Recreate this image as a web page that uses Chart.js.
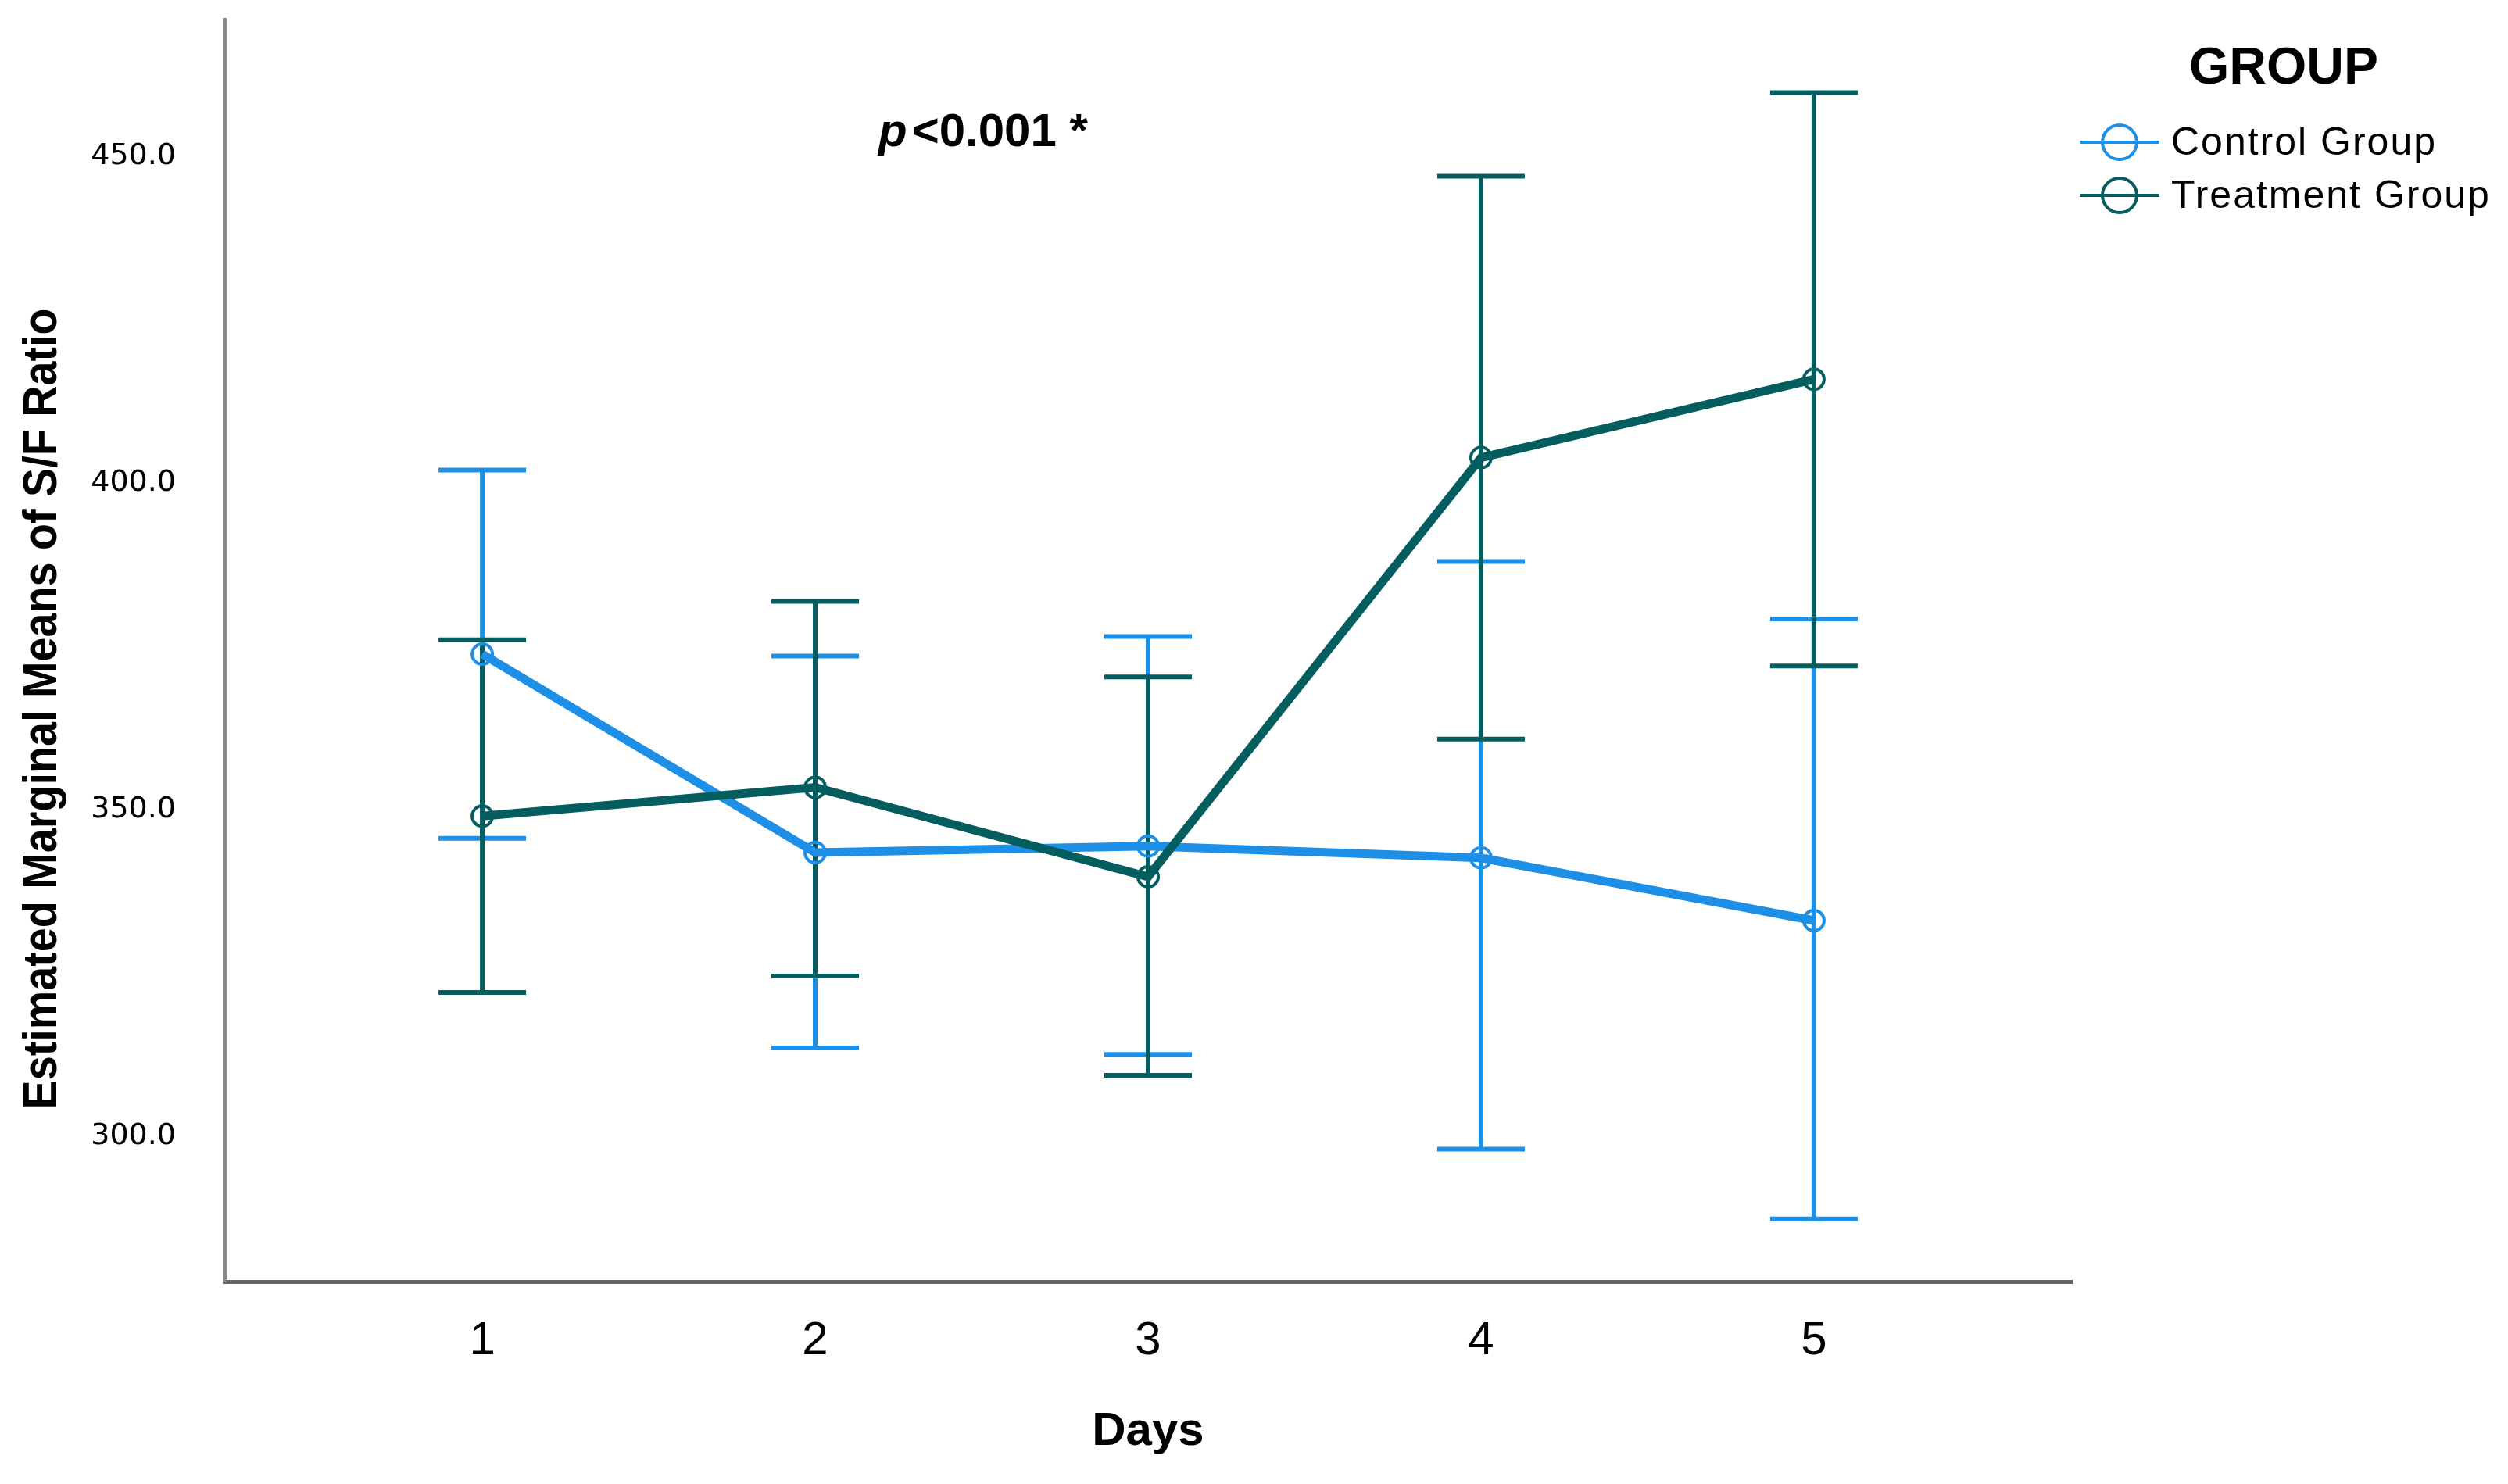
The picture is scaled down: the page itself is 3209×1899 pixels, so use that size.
<!DOCTYPE html>
<html>
<head>
<meta charset="utf-8">
<script src="https://cdn.jsdelivr.net/npm/chart.js@4.4.1/dist/chart.umd.min.js"></script>
<style>
  body { margin: 0; background: #fff; }
  #wrap { width: 3209px; height: 1899px; position: relative; }
</style>
</head>
<body>
<div id="wrap"><canvas id="emm-chart"></canvas></div>
<script>
// Estimated marginal means of S/F ratio by day, with 95% CI
const days = [1, 2, 3, 4, 5];
const yTicks = [300, 350, 400, 450];

const controlMean = [373.8, 343.4, 344.4, 342.6, 333.0];
const controlLow  = [345.6, 313.5, 312.5, 298.0, 287.3];
const controlHigh = [402.0, 373.5, 376.5, 388.0, 379.2];

const treatMean = [349.0, 353.4, 339.7, 403.9, 415.9];
const treatLow  = [322.0, 324.5, 309.3, 360.8, 372.0];
const treatHigh = [376.0, 381.9, 370.3, 447.0, 459.8];

const CONTROL_COLOR = '#1d8fe6';
const TREAT_COLOR = '#045d5e';

const toPoints = (ys) => days.map((d, i) => ({ x: d, y: ys[i] }));

// error bars drawn under the lines, through the chart scales
const errorBars = {
    id: 'errorBars',
    beforeDatasetsDraw(chart) {
        const { ctx, scales: { x, y } } = chart;
        const sets = [
            { lo: controlLow, hi: controlHigh, color: CONTROL_COLOR },
            { lo: treatLow, hi: treatHigh, color: TREAT_COLOR }
        ];
        ctx.save();
        ctx.lineWidth = 6;
        sets.forEach(s => {
            ctx.strokeStyle = s.color;
            days.forEach((d, i) => {
                const px = x.getPixelForValue(d);
                const yl = y.getPixelForValue(s.lo[i]);
                const yh = y.getPixelForValue(s.hi[i]);
                ctx.beginPath();
                ctx.moveTo(px, yl); ctx.lineTo(px, yh);
                ctx.moveTo(px - 56, yl); ctx.lineTo(px + 56, yl);
                ctx.moveTo(px - 56, yh); ctx.lineTo(px + 56, yh);
                ctx.stroke();
            });
        });
        ctx.restore();
    }
};

// y title, p-value note and group legend
const annotations = {
    id: 'annotations',
    afterDraw(chart) {
        const ctx = chart.ctx;
        ctx.save();
        ctx.fillStyle = '#000';

        // y axis title
        ctx.save();
        ctx.translate(55, 907);
        ctx.rotate(-Math.PI / 2);
        ctx.font = 'bold 62px "Liberation Sans Narrow", "Liberation Sans", Arial';
        ctx.textAlign = 'center';
        ctx.textBaseline = 'middle';
        ctx.fillText('Estimated Marginal Means of S/F Ratio', 0, 0, 1025);
        ctx.restore();

        // p-value
        ctx.textBaseline = 'alphabetic';
        ctx.textAlign = 'left';
        ctx.font = 'italic bold 60px "Liberation Sans", Arial';
        ctx.fillText('p', 1124, 187);
        const pw = ctx.measureText('p').width;
        ctx.font = 'bold 60px "Liberation Sans", Arial';
        ctx.fillText('<0.001 *', 1124 + pw + 6, 187);

        // legend
        ctx.textAlign = 'center';
        ctx.font = 'bold 66px "Liberation Sans", Arial';
        ctx.fillText('GROUP', 2922, 107);

        const items = [
            { label: 'Control Group', color: CONTROL_COLOR, y: 182 },
            { label: 'Treatment Group', color: TREAT_COLOR, y: 250 }
        ];
        items.forEach(it => {
            ctx.strokeStyle = it.color;
            ctx.lineWidth = 4;
            ctx.beginPath();
            ctx.moveTo(2661, it.y); ctx.lineTo(2763, it.y);
            ctx.stroke();
            ctx.lineWidth = 4;
            ctx.beginPath();
            ctx.arc(2712, it.y, 22, 0, Math.PI * 2);
            ctx.stroke();
            ctx.fillStyle = '#000';
            ctx.textAlign = 'left';
            ctx.textBaseline = 'middle';
            ctx.font = '50px "Liberation Sans", Arial';
            ctx.letterSpacing = '2px';
            ctx.fillText(it.label, 2778, it.y + 2);
            ctx.letterSpacing = '0px';
        });
        ctx.restore();
    }
};

new Chart(document.getElementById('emm-chart'), {
    type: 'line',
    data: {
        datasets: [
            {
                label: 'Control Group',
                data: toPoints(controlMean),
                borderColor: CONTROL_COLOR,
                borderWidth: 11,
                pointRadius: 13,
                pointBorderWidth: 4,
                pointBackgroundColor: 'rgba(0,0,0,0)',
                pointBorderColor: CONTROL_COLOR,
                tension: 0,
                order: 1
            },
            {
                label: 'Treatment Group',
                data: toPoints(treatMean),
                borderColor: TREAT_COLOR,
                borderWidth: 11,
                pointRadius: 13,
                pointBorderWidth: 4,
                pointBackgroundColor: 'rgba(0,0,0,0)',
                pointBorderColor: TREAT_COLOR,
                tension: 0,
                order: 0
            }
        ]
    },
    options: {
        responsive: true,
        maintainAspectRatio: false,
        devicePixelRatio: 1,
        animation: false,
        layout: { padding: { top: 25, right: 558, left: 0, bottom: 0 } },
        plugins: {
            legend: { display: false },
            tooltip: { enabled: false }
        },
        scales: {
            x: {
                type: 'linear',
                min: 0.225,
                max: 5.775,
                afterFit: (scale) => {
                    scale.height = 259;
                    scale.paddingLeft = 0;
                    scale.paddingRight = 0;
                },
                grid: { display: false, drawTicks: false },
                border: { display: true, color: '#666', width: 5 },
                ticks: {
                    stepSize: 1,
                    includeBounds: false,
                    padding: 40,
                    color: '#000',
                    font: { family: '"Liberation Sans Narrow", "Liberation Sans", Arial', size: 60 },
                    callback: (v) => days.includes(v) ? String(v) : ''
                },
                title: {
                    display: true,
                    text: 'Days',
                    color: '#000',
                    font: { family: '"Liberation Sans", Arial', size: 60, weight: 'bold' },
                    padding: { top: 0, bottom: 31 }
                }
            },
            y: {
                min: 277.7,
                max: 471,
                afterFit: (scale) => {
                    scale.width = 287;
                    scale.paddingTop = 0;
                    scale.paddingBottom = 0;
                },
                afterBuildTicks: (scale) => { scale.ticks = yTicks.map(v => ({ value: v })); },
                grid: { display: false, drawTicks: false },
                border: { display: true, color: '#8a8a8a', width: 5 },
                ticks: {
                    padding: 62,
                    color: '#000',
                    font: { family: '"DejaVu Sans", Arial', size: 38 },
                    callback: (v) => Number(v).toFixed(1)
                }
            }
        }
    },
    plugins: [errorBars, annotations]
});
</script>
</body>
</html>
